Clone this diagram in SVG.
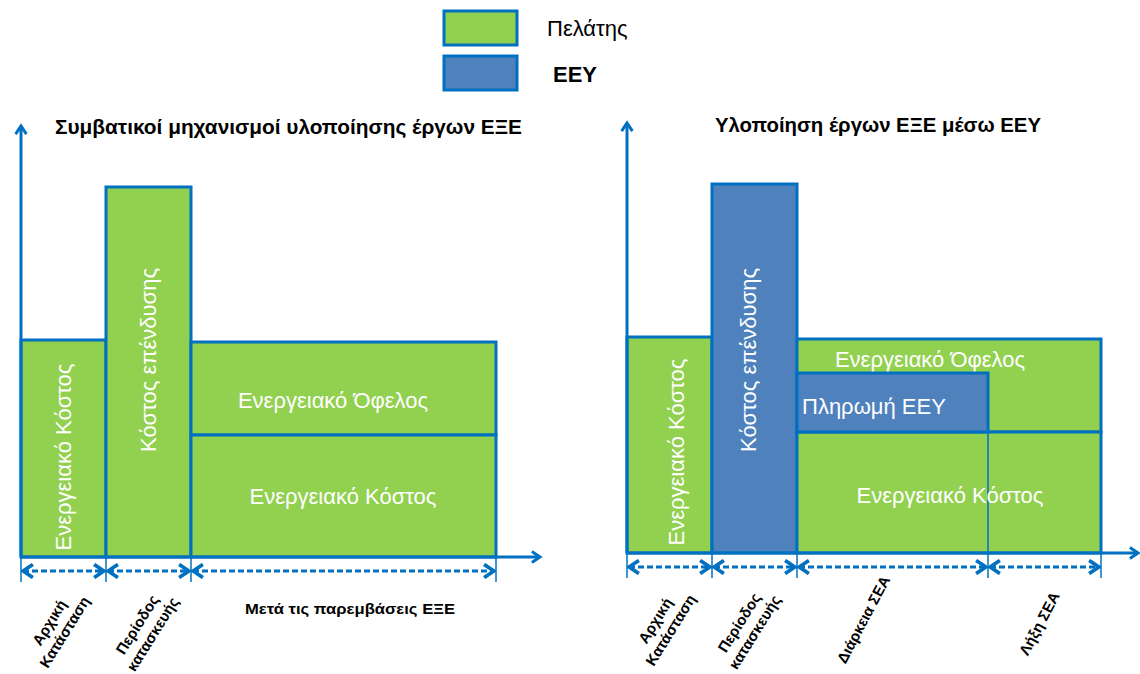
<svg xmlns="http://www.w3.org/2000/svg" width="1140" height="674" viewBox="0 0 1140 674">
<defs>
<style>
.g{fill:#92D050;stroke:#0070C0;stroke-width:3}
.b{fill:#4F81BD;stroke:#0070C0;stroke-width:3}
.ax{stroke:#0070C0;stroke-width:3;fill:none}
.dim{stroke:#0070C0;stroke-width:3;stroke-dasharray:6 3;fill:none}
.tick{stroke:#0070C0;stroke-width:1.5}
.w{font-family:"Liberation Sans",Arial,sans-serif;font-size:22px;fill:#fff}
.t{font-family:"Liberation Sans",Arial,sans-serif;font-size:20px;font-weight:bold;fill:#000}
.l{font-family:"Liberation Sans",Arial,sans-serif;font-size:15px;font-weight:bold;fill:#000}
.lg{font-family:"Liberation Sans",Arial,sans-serif;font-size:22px;fill:#000}
</style>
<marker id="ah" viewBox="0 0 10 10" refX="8" refY="5" markerWidth="4.5" markerHeight="4.5" orient="auto" markerUnits="strokeWidth">
<polyline points="2,1 8,5 2,9" fill="none" stroke="#0070C0" stroke-width="2.2"/>
</marker>
<marker id="dh" viewBox="0 0 10 10" refX="9" refY="5" markerWidth="5.5" markerHeight="5.5" orient="auto-start-reverse" markerUnits="strokeWidth">
<polyline points="3,1 9,5 3,9" fill="none" stroke="#0070C0" stroke-width="2.2"/>
</marker>
</defs>
<rect width="1140" height="674" fill="#fff"/>

<g id="legend">
<rect class="g" x="444" y="11" width="73" height="34"/>
<rect class="b" x="444" y="56" width="73" height="34"/>
<text class="lg" x="547" y="36">Πελάτης</text>
<text class="lg" x="553" y="82" font-weight="bold">ΕΕΥ</text>
</g>

<g id="left-chart">
<text class="t" x="55" y="134" textLength="467" lengthAdjust="spacingAndGlyphs">Συμβατικοί μηχανισμοί υλοποίησης έργων ΕΞΕ</text>
<g id="l-col1"><rect class="g" x="21" y="340" width="85" height="217"/>
<text class="w" transform="translate(71,457) rotate(-90)" text-anchor="middle">Ενεργειακό Κόστος</text></g>
<g id="l-col2"><rect class="g" x="106" y="187" width="85" height="370"/>
<text class="w" transform="translate(156,360) rotate(-90)" text-anchor="middle">Κόστος επένδυσης</text></g>
<g id="l-benefit"><rect class="g" x="191" y="342" width="305" height="93"/>
<text class="w" x="333" y="408" text-anchor="middle">Ενεργειακό Όφελος</text></g>
<g id="l-cost"><rect class="g" x="191" y="435" width="305" height="122"/>
<text class="w" x="343" y="504" text-anchor="middle">Ενεργειακό Κόστος</text></g>
<g transform="translate(58,628) rotate(-58)" class="l" text-anchor="middle"><text x="0" y="-5">Αρχική</text><text x="0" y="13">Κατάσταση</text></g>
<g transform="translate(146,630) rotate(-58)" class="l" text-anchor="middle"><text x="0" y="-5">Περίοδος</text><text x="0" y="13">κατασκευής</text></g>
<text class="l" x="350" y="614" text-anchor="middle" textLength="210" lengthAdjust="spacingAndGlyphs">Μετά τις παρεμβάσεις ΕΞΕ</text>
</g>

<g id="right-chart">
<text class="t" x="715" y="132" textLength="326" lengthAdjust="spacingAndGlyphs">Υλοποίηση έργων ΕΞΕ  μέσω ΕΕΥ</text>
<g id="r-col1"><rect class="g" x="627" y="337" width="85" height="216"/>
<text class="w" transform="translate(684,452) rotate(-90)" text-anchor="middle">Ενεργειακό Κόστος</text></g>
<g id="r-col2"><rect class="b" x="712" y="184" width="85" height="369"/>
<text class="w" transform="translate(756,360) rotate(-90)" text-anchor="middle">Κόστος επένδυσης</text></g>
<g id="r-benefit"><rect class="g" x="797" y="339" width="304" height="93"/>
<text class="w" x="930" y="367" text-anchor="middle">Ενεργειακό Όφελος</text></g>
<g id="r-cost"><rect class="g" x="797" y="432" width="304" height="121"/>
<line x1="988" y1="432" x2="988" y2="553" stroke="#0070C0" stroke-width="1.5"/>
<text class="w" x="950" y="503" text-anchor="middle">Ενεργειακό Κόστος</text></g>
<g id="r-payment"><rect class="b" x="797" y="373" width="191" height="59"/>
<text class="w" x="802" y="414">Πληρωμή ΕΕΥ</text></g>
<g transform="translate(664,626) rotate(-58)" class="l" text-anchor="middle"><text x="0" y="-5">Αρχική</text><text x="0" y="13">Κατάσταση</text></g>
<g transform="translate(748,628) rotate(-58)" class="l" text-anchor="middle"><text x="0" y="-5">Περίοδος</text><text x="0" y="13">κατασκευής</text></g>
<text class="l" transform="translate(868,622) rotate(-62)" text-anchor="middle">Διάρκεια ΣΕΑ</text>
<text class="l" transform="translate(1044,626) rotate(-62)" text-anchor="middle">Λήξη ΣΕΑ</text>
</g>

<g id="connectors">
<line class="ax" x1="21" y1="557" x2="21" y2="126" marker-end="url(#ah)"/>
<line class="ax" x1="21" y1="557" x2="540" y2="557" marker-end="url(#ah)"/>
<line class="ax" x1="627" y1="553" x2="627" y2="123" marker-end="url(#ah)"/>
<line class="ax" x1="627" y1="553" x2="1138" y2="553" marker-end="url(#ah)"/>
<g class="tick">
<line x1="21" y1="557" x2="21" y2="582"/><line x1="106" y1="557" x2="106" y2="582"/><line x1="191" y1="557" x2="191" y2="582"/><line x1="496" y1="557" x2="496" y2="582"/>
<line x1="627" y1="553" x2="627" y2="578"/><line x1="712" y1="553" x2="712" y2="578"/><line x1="797" y1="553" x2="797" y2="578"/><line x1="988" y1="553" x2="988" y2="578"/><line x1="1101" y1="553" x2="1101" y2="578"/>
</g>
<line class="dim" x1="23" y1="571" x2="104" y2="571" marker-start="url(#dh)" marker-end="url(#dh)"/>
<line class="dim" x1="108" y1="571" x2="189" y2="571" marker-start="url(#dh)" marker-end="url(#dh)"/>
<line class="dim" x1="193" y1="571" x2="494" y2="571" marker-start="url(#dh)" marker-end="url(#dh)"/>
<line class="dim" x1="629" y1="567" x2="710" y2="567" marker-start="url(#dh)" marker-end="url(#dh)"/>
<line class="dim" x1="714" y1="567" x2="795" y2="567" marker-start="url(#dh)" marker-end="url(#dh)"/>
<line class="dim" x1="799" y1="567" x2="986" y2="567" marker-start="url(#dh)" marker-end="url(#dh)"/>
<line class="dim" x1="990" y1="567" x2="1099" y2="567" marker-start="url(#dh)" marker-end="url(#dh)"/>
</g>
</svg>
